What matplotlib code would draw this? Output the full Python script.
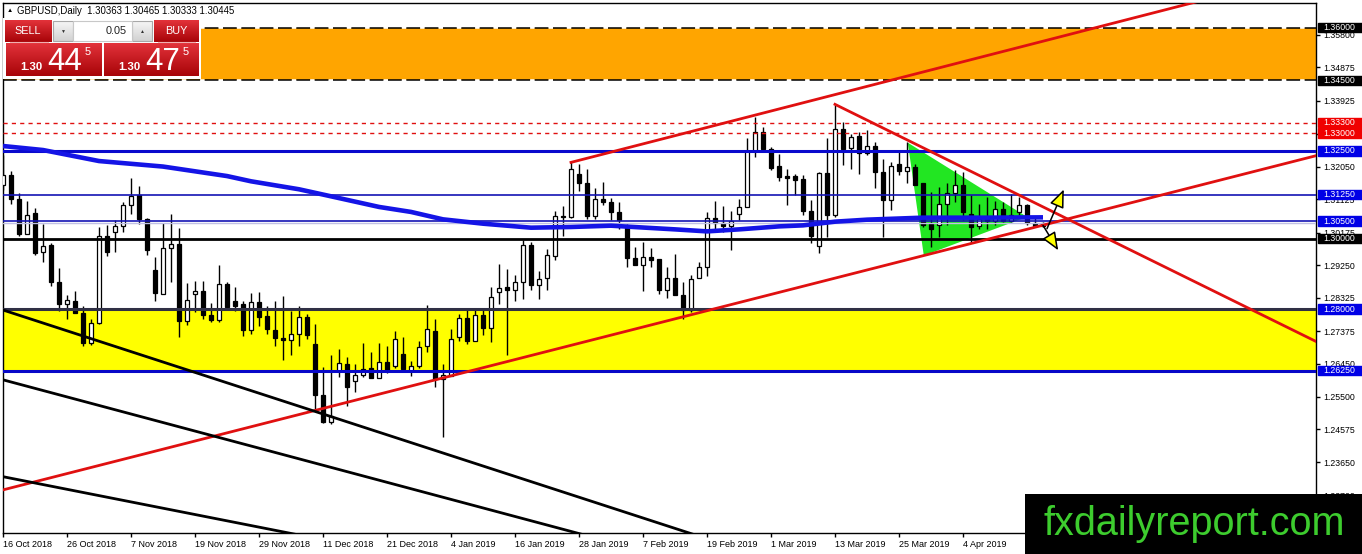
import matplotlib
matplotlib.use('Agg')
import matplotlib.pyplot as plt
from matplotlib.patches import Rectangle, Polygon
from matplotlib.colors import LinearSegmentedColormap
import numpy as np

plt.rcParams['font.family'] = ['Liberation Sans', 'DejaVu Sans']

# daily GBPUSD candles, 16 Oct 2018 .. current bar
opens = [1.3152, 1.3182, 1.3114, 1.3014, 1.3074, 1.2962, 1.2981, 1.2877, 1.2814, 1.2822,
         1.2789, 1.2704, 1.2761, 1.3008, 1.3019, 1.3036, 1.3097, 1.3123, 1.3057, 1.2912,
         1.2842, 1.2973, 1.2985, 1.2767, 1.2842, 1.2851, 1.2784, 1.2770, 1.2871, 1.2822,
         1.2815, 1.2739, 1.2820, 1.2780, 1.2739, 1.2718, 1.2712, 1.2728, 1.2777, 1.2700,
         1.2556, 1.2480, 1.2625, 1.2644, 1.2596, 1.2613, 1.2632, 1.2603, 1.2649, 1.2639,
         1.2672, 1.2625, 1.2637, 1.2694, 1.2737, 1.2601, 1.2611, 1.2720, 1.2774, 1.2708,
         1.2783, 1.2745, 1.2848, 1.2862, 1.2853, 1.2877, 1.2981, 1.2867, 1.2888, 1.2951,
         1.3065, 1.3062, 1.3185, 1.3157, 1.3065, 1.3114, 1.3104, 1.3076, 1.3033, 1.2945,
         1.2926, 1.2948, 1.2943, 1.2853, 1.2888, 1.2840, 1.2796, 1.2888, 1.2919, 1.3059,
         1.3046, 1.3036, 1.3069, 1.3090, 1.3249, 1.3304, 1.3256, 1.3207, 1.3178, 1.3178,
         1.3169, 1.3079, 1.2979, 1.3187, 1.3068, 1.3313, 1.3258, 1.3292, 1.3245, 1.3264,
         1.3190, 1.3109, 1.3211, 1.3193, 1.3204, 1.3157, 1.3043, 1.3038, 1.3100, 1.3131,
         1.3152, 1.3071, 1.3036, 1.3059, 1.3049, 1.3084, 1.3049, 1.3076, 1.3097, 1.3046,
         1.30363]
highs = [1.3237, 1.3193, 1.3131, 1.3106, 1.3088, 1.3043, 1.2989, 1.2916, 1.2840, 1.2851,
         1.2810, 1.2772, 1.3033, 1.3038, 1.3054, 1.3104, 1.3173, 1.3150, 1.3060, 1.2948,
         1.3046, 1.3071, 1.3030, 1.2874, 1.2881, 1.2881, 1.2818, 1.2926, 1.2877, 1.2862,
         1.2822, 1.2846, 1.2848, 1.2808, 1.2824, 1.2837, 1.2794, 1.2808, 1.2786, 1.2758,
         1.2634, 1.2670, 1.2685, 1.2663, 1.2644, 1.2704, 1.2677, 1.2704, 1.2696, 1.2737,
         1.2720, 1.2653, 1.2708, 1.2812, 1.2772, 1.2644, 1.2744, 1.2786, 1.2796, 1.2801,
         1.2801, 1.2862, 1.2929, 1.2915, 1.2896, 1.2995, 1.2991, 1.2907, 1.2972, 1.3078,
         1.3093, 1.3217, 1.3211, 1.3199, 1.3144, 1.3160, 1.3116, 1.3103, 1.3043, 1.2976,
         1.2992, 1.2973, 1.2943, 1.2919, 1.2957, 1.2878, 1.2896, 1.2935, 1.3076, 1.3106,
         1.3093, 1.3078, 1.3114, 1.3287, 1.3347, 1.3318, 1.3261, 1.3242, 1.3199, 1.3185,
         1.3182, 1.3109, 1.3190, 1.3287, 1.3380, 1.3332, 1.3299, 1.3302, 1.3309, 1.3274,
         1.3228, 1.3218, 1.3247, 1.3274, 1.3211, 1.3157, 1.3133, 1.3147, 1.3157, 1.3195,
         1.3190, 1.3123, 1.3100, 1.3119, 1.3106, 1.3104, 1.3128, 1.3119, 1.3100, 1.3062,
         1.30465]
lows = [1.3138, 1.3100, 1.3009, 1.3014, 1.2953, 1.2935, 1.2865, 1.2793, 1.2772, 1.2788,
        1.2694, 1.2698, 1.2758, 1.2951, 1.2962, 1.3019, 1.3071, 1.3043, 1.2954, 1.2824,
        1.2842, 1.2878, 1.2720, 1.2756, 1.2791, 1.2772, 1.2763, 1.2763, 1.2796, 1.2793,
        1.2723, 1.2729, 1.2753, 1.2729, 1.2696, 1.2655, 1.2668, 1.2696, 1.2715, 1.2516,
        1.2476, 1.2473, 1.2606, 1.2525, 1.2563, 1.2606, 1.2603, 1.2603, 1.2617, 1.2632,
        1.2625, 1.2611, 1.2632, 1.2677, 1.2577, 1.2435, 1.2611, 1.2710, 1.2701, 1.2708,
        1.2725, 1.2706, 1.2815, 1.2668, 1.2824, 1.2829, 1.2853, 1.2829, 1.2853, 1.2938,
        1.3009, 1.3059, 1.3135, 1.3055, 1.3055, 1.3095, 1.3052, 1.3028, 1.2919, 1.2924,
        1.2850, 1.2919, 1.2843, 1.2831, 1.2839, 1.2772, 1.2791, 1.2888, 1.2894, 1.3027,
        1.3019, 1.2967, 1.3052, 1.3090, 1.3233, 1.3252, 1.3195, 1.3163, 1.3095, 1.3125,
        1.3066, 1.2989, 1.2960, 1.3005, 1.3062, 1.3209, 1.3199, 1.3185, 1.3239, 1.3144,
        1.3005, 1.3081, 1.3180, 1.3157, 1.3152, 1.3033, 1.2976, 1.3005, 1.3038, 1.3104,
        1.3052, 1.2989, 1.3028, 1.3028, 1.3040, 1.3047, 1.3047, 1.3066, 1.3040, 1.3033,
        1.30333]
closes = [1.3180, 1.3114, 1.3014, 1.3068, 1.2960, 1.2979, 1.2877, 1.2813, 1.2825, 1.2788,
          1.2704, 1.2761, 1.3008, 1.2962, 1.3036, 1.3097, 1.3122, 1.3055, 1.2967, 1.2845,
          1.2973, 1.2985, 1.2767, 1.2827, 1.2851, 1.2782, 1.2770, 1.2871, 1.2807, 1.2810,
          1.2739, 1.2820, 1.2777, 1.2742, 1.2717, 1.2712, 1.2728, 1.2777, 1.2725, 1.2556,
          1.2480, 1.2495, 1.2646, 1.2577, 1.2613, 1.2630, 1.2603, 1.2649, 1.2625, 1.2715,
          1.2630, 1.2637, 1.2691, 1.2744, 1.2601, 1.2613, 1.2715, 1.2774, 1.2708, 1.2782,
          1.2745, 1.2834, 1.2861, 1.2853, 1.2877, 1.2981, 1.2867, 1.2886, 1.2953, 1.3065,
          1.3061, 1.3197, 1.3157, 1.3065, 1.3114, 1.3104, 1.3076, 1.3052, 1.2945, 1.2924,
          1.2948, 1.2938, 1.2853, 1.2888, 1.2839, 1.2796, 1.2884, 1.2919, 1.3059, 1.3046,
          1.3036, 1.3049, 1.3090, 1.3249, 1.3304, 1.3256, 1.3201, 1.3176, 1.3173, 1.3166,
          1.3078, 1.3009, 1.3187, 1.3068, 1.3313, 1.3255, 1.3290, 1.3245, 1.3264, 1.3190,
          1.3109, 1.3207, 1.3192, 1.3204, 1.3154, 1.3040, 1.3027, 1.3100, 1.3130, 1.3152,
          1.3076, 1.3033, 1.3057, 1.3049, 1.3084, 1.3049, 1.3066, 1.3095, 1.3046, 1.3036,
          1.30445]

date_labels = ['16 Oct 2018', '26 Oct 2018', '7 Nov 2018', '19 Nov 2018', '29 Nov 2018',
               '11 Dec 2018', '21 Dec 2018', '4 Jan 2019', '16 Jan 2019', '28 Jan 2019',
               '7 Feb 2019', '19 Feb 2019', '1 Mar 2019', '13 Mar 2019', '25 Mar 2019',
               '4 Apr 2019']
bars_per_label = 8

# moving average read along its path (bar index, price)
ma_bars = [0, 5, 12, 20, 28, 31, 37, 41, 47, 51, 55, 60, 66, 71, 76, 84, 88, 92, 97,
           100, 104, 108, 115, 123, 130]
ma_values = [1.32635, 1.32521, 1.32208, 1.32051, 1.31781, 1.31632, 1.31405, 1.31205,
             1.30903, 1.30761, 1.30550, 1.30427, 1.30313, 1.30333, 1.30370, 1.30265,
             1.30208, 1.30265, 1.30350, 1.30379, 1.30484, 1.30541, 1.30598, 1.30598,
             1.30607]

price_ticks = [1.35800, 1.34875, 1.33925, 1.32975, 1.32050, 1.31125, 1.30175, 1.29250,
               1.28325, 1.27375, 1.26450, 1.25500, 1.24575, 1.23650, 1.22700]

orange_zone = (1.3450, 1.3600)
yellow_zone = (1.2625, 1.2800)
bid_price = 1.30445

# level, label box colour
level_labels = [(1.3600, 'black'), (1.3450, 'black'), (1.3330, '#f00000'), (1.3300, '#f00000'),
                (1.3250, '#0000e6'), (1.3125, '#0000e6'), (1.3050, '#0000e6'),
                (1.3000, 'black'), (1.2800, '#0000e6'), (1.2625, '#0000e6')]

# trend lines: (bar, price) pairs
red_upper = [(71, 1.3217), (152, 1.3690)]
red_lower = [(-1, 1.2280), (165, 1.3241)]
red_down = [(104, 1.3382), (165, 1.2698)]
black_lines = [[(-0.375, 1.2800), (95, 1.2095)],
               [(-0.375, 1.2601), (95, 1.2022)],
               [(-0.375, 1.2325), (49.6, 1.2101)]]
pennant = [(113.1, 1.3273), (115.1, 1.2952), (128.0, 1.3062)]
arrow_up = [(130.5, 1.30285), (132.6, 1.31400)]
arrow_down = [(130.0, 1.30379), (131.9, 1.29670)]

W, H = 1362, 554
fig = plt.figure(figsize=(W / 100, H / 100), dpi=100)
ax = fig.add_axes([2.5 / W, (H - 533) / H, (1316 - 2.5) / W, (533 - 2.7) / H])
ax.set_xlim(-0.0625, 164.125)
ax.set_ylim(1.21632, 1.36710)

# zones
ax.axhspan(*orange_zone, color='#ffa500', lw=0, zorder=0.5)
ax.axhspan(*yellow_zone, color='#ffff00', lw=0, zorder=0.5)
ax.add_patch(Polygon(pennant, closed=True, fc='#22e622', ec='none', zorder=1))

# horizontal levels
for lv in orange_zone:
    ax.axhline(lv, color='black', lw=1.1, ls=(0, (9, 3)), gapcolor='white', zorder=4)
for lv in (1.3330, 1.3300):
    ax.axhline(lv, color='#e01010', lw=1, ls=(0, (3, 3)), zorder=4)
ax.axhline(1.3250, color='#0a0acd', lw=2.2, zorder=4)
ax.axhline(1.3125, color='#1414b4', lw=1.2, zorder=4)
ax.axhline(1.3050, color='#1414b4', lw=1.2, zorder=4)
ax.axhline(bid_price, color='#c0c0e4', lw=1, zorder=4)
ax.axhline(1.3000, color='black', lw=2, zorder=4)
ax.axhline(1.2800, color='#303045', lw=2.2, zorder=4)
ax.axhline(1.2625, color='#0808c8', lw=2.2, zorder=4)

# candles
x = np.arange(len(opens))
o = np.array(opens)
c = np.array(closes)
ax.vlines(x, lows, highs, color='black', lw=1, zorder=2)
up = c >= o
body_lo = np.minimum(o, c)
body_h = np.maximum(np.abs(c - o), 0.00004)
ax.bar(x[up], body_h[up], bottom=body_lo[up], width=0.62, color='white',
       edgecolor='black', lw=0.9, zorder=3)
ax.bar(x[~up], body_h[~up], bottom=body_lo[~up], width=0.62, color='black',
       edgecolor='black', lw=0.9, zorder=3)

# moving average
ax.plot(ma_bars, ma_values, color='#1414e6', lw=3.3, zorder=5, solid_capstyle='butt')

# trend lines
for ln in [red_upper, red_lower, red_down]:
    ax.plot([p[0] for p in ln], [p[1] for p in ln], color='#e01010', lw=2, zorder=6)
for ln in black_lines:
    ax.plot([p[0] for p in ln], [p[1] for p in ln], color='black', lw=2, zorder=6)

for a in (arrow_up, arrow_down):
    ax.annotate('', xy=a[1], xytext=a[0],
                arrowprops=dict(arrowstyle='-|>,head_length=1.1,head_width=0.45',
                                fc='#ffff00', ec='black', lw=1.1, shrinkA=0, shrinkB=0),
                zorder=8)

# axes styling
ax.yaxis.tick_right()
ax.set_yticks(price_ticks)
ax.set_yticklabels([f'{t:.5f}' for t in price_ticks])
ax.set_xticks(range(0, bars_per_label * len(date_labels), bars_per_label))
ax.set_xticklabels(date_labels)
for lab in ax.get_xticklabels():
    lab.set_ha('left')
ax.tick_params(axis='y', length=3, width=1, pad=2, labelsize=6.3, colors='black')
ax.tick_params(axis='x', length=3, width=1, pad=2, labelsize=6.5, colors='black')
for sp in ax.spines.values():
    sp.set_color('black')
    sp.set_linewidth(1)

# level label boxes on the price axis (they cover the plain tick labels, as in MT4)
ytr = ax.get_yaxis_transform()
box_h = 9.5 / 3517
for lv, col in level_labels:
    ax.add_patch(Rectangle((1.0015, lv - box_h / 2), 0.04, box_h, transform=ytr,
                           fc=col, ec=col, clip_on=False, zorder=9))
    ax.text(1.0055, lv, f'{lv:.5f}', transform=ytr, color='white', fontsize=6.3,
            va='center', ha='left', clip_on=False, zorder=10)

# overlay in pixel coordinates: header, trade panel, watermark
ov = fig.add_axes([0, 0, 1, 1], zorder=10)
ov.axis('off')

red_cm = LinearSegmentedColormap.from_list('red', ['#e2323a', '#a80408'])
grey_cm = LinearSegmentedColormap.from_list('grey', ['#f6f6f6', '#d2d2d2'])
grad = np.linspace(0, 1, 32).reshape(-1, 1)


def panel(x0, y0, x1, y1, cm, edge=None):
    ov.imshow(grad, extent=(x0, x1, y1, y0), cmap=cm, aspect='auto', zorder=2)
    if edge:
        ov.add_patch(Rectangle((x0, y0), x1 - x0, y1 - y0, fc='none', ec=edge, lw=0.8, zorder=3))


ov.text(7, 10, '\u25b2', fontsize=4.5, va='center', color='black')
ov.text(17, 10.5, 'GBPUSD,Daily  1.30363 1.30465 1.30333 1.30445', fontsize=6.9,
        va='center', color='black')

ov.add_patch(Rectangle((3, 18), 198, 61, fc='white', ec='none', zorder=1))
panel(5, 20, 52, 42, red_cm)
panel(154, 20, 199, 42, red_cm)
panel(6, 43, 102, 76, red_cm)
panel(104, 43, 199, 76, red_cm)
panel(53, 21, 73, 41, grey_cm, edge='#a8a8a8')
panel(132, 21, 152, 41, grey_cm, edge='#a8a8a8')
ov.add_patch(Rectangle((73, 21), 59, 20, fc='white', ec='#c8c8c8', lw=0.8, zorder=3))
ov.plot([10, 48], [41.5, 41.5], color='#f0b0b0', lw=0.8, zorder=4)
ov.plot([158, 195], [41.5, 41.5], color='#f0b0b0', lw=0.8, zorder=4)

ov.text(28, 31.5, 'SELL', fontsize=7.8, color='white', ha='center', va='center', zorder=5)
ov.text(176.5, 31.5, 'BUY', fontsize=7.8, color='white', ha='center', va='center', zorder=5)
ov.text(127, 31.5, '0.05', fontsize=7.8, color='#202020', ha='right', va='center', zorder=5)
ov.text(63, 31.5, '\u25bc', fontsize=3.6, color='#303030', ha='center', va='center', zorder=5)
ov.text(142, 31.5, '\u25b2', fontsize=3.6, color='#303030', ha='center', va='center', zorder=5)

for x0, big in ((20, '44'), (118, '47')):
    ov.text(x0, 70, '1.30', fontsize=8.2, fontweight='bold', color='white',
            ha='left', va='baseline', zorder=5)
    ov.text(x0 + 27, 70.5, big, fontsize=22.5, color='white', ha='left',
            va='baseline', zorder=5)
    ov.text(x0 + 65, 55, '5', fontsize=8, color='white', ha='left', va='baseline', zorder=5)

ov.add_patch(Rectangle((1025, 494), W - 1025, H - 494, fc='black', ec='none', zorder=6))
ov.text(1194, 524, 'fxdailyreport.com', fontsize=28.5, color='#3dcc2e',
        ha='center', va='center', zorder=7)

ov.set_xlim(0, W)
ov.set_ylim(H, 0)

fig.savefig('out.png', dpi=100)
